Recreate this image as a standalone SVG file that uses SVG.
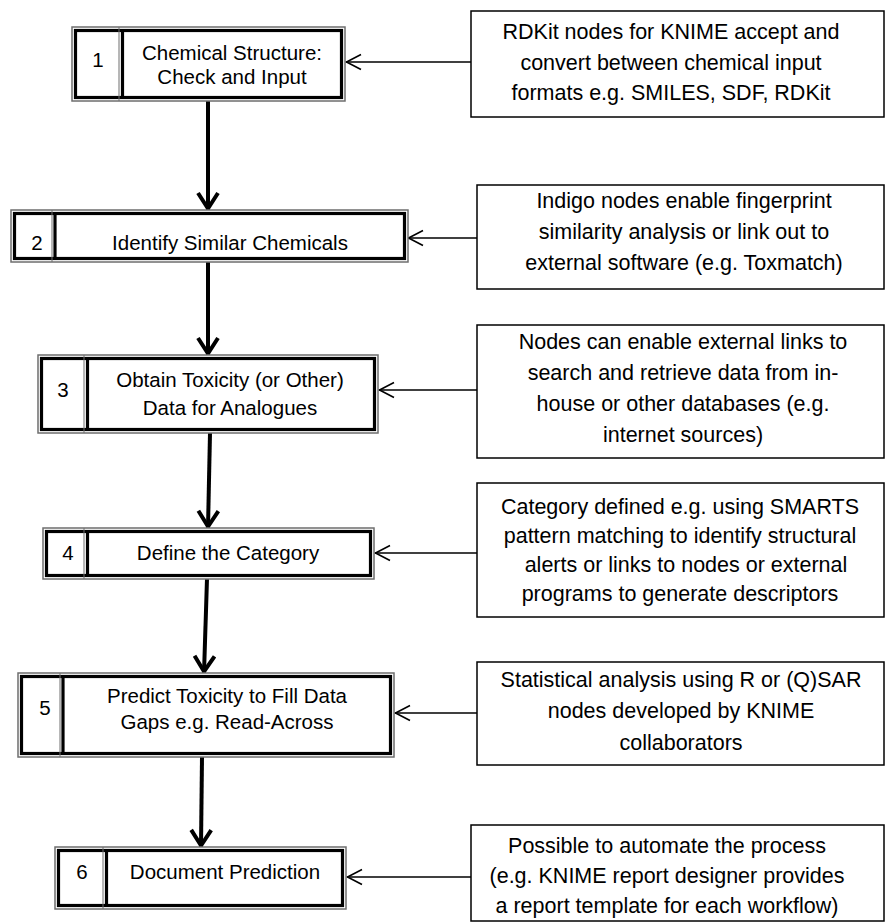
<svg xmlns="http://www.w3.org/2000/svg" width="886" height="923" viewBox="0 0 886 923">
<style>
text{font-family:"Liberation Sans",Arial,sans-serif;font-size:20.5px;fill:#000;text-anchor:middle}
.n text{font-size:21.5px}
.outer{fill:#fff;stroke:#6e6e6e;stroke-width:1.5}
.inner{fill:none;stroke:#000;stroke-width:3.2}
.thin{stroke:#6e6e6e;stroke-width:1}
.thick{stroke:#000;stroke-width:3.2}
.note{fill:#fff;stroke:#000;stroke-width:1.5}
.flow{stroke:#000;stroke-width:4;fill:none;marker-end:url(#bigArrow)}
.link{stroke:#000;stroke-width:1.6;fill:none;marker-end:url(#smallArrow)}
</style>
<defs>
<marker id="bigArrow" markerUnits="userSpaceOnUse" viewBox="-20 -12 22 24" refX="0" refY="0" markerWidth="22" markerHeight="24" orient="auto">
<path d="M-17,-10 L-1.5,0 L-17,10" fill="none" stroke="#000" stroke-width="4"/>
</marker>
<marker id="smallArrow" markerUnits="userSpaceOnUse" viewBox="-18 -10 20 20" refX="0" refY="0" markerWidth="20" markerHeight="20" orient="auto">
<path d="M-15,-7.5 L-0.5,0 L-15,7.5" fill="none" stroke="#000" stroke-width="1.6"/>
</marker>
</defs>

<g id="connectors">
<path class="flow" d="M208,101 L208,210"/>
<path class="flow" d="M208,262 L208,355"/>
<path class="flow" d="M210,433 L208,528"/>
<path class="flow" d="M207,579 L204,673"/>
<path class="flow" d="M202,757 L201,847"/>
<path class="link" d="M471,62 L346,62"/>
<path class="link" d="M477,238 L408,238"/>
<path class="link" d="M477,390 L379,390"/>
<path class="link" d="M477,553 L375,553"/>
<path class="link" d="M477,713 L395,713"/>
<path class="link" d="M471,877 L347,877"/>
</g>

<g id="step1">
<rect class="outer" x="72" y="27" width="273" height="74"/>
<rect class="inner" x="75.5" y="30.5" width="266" height="67"/>
<line class="thin" x1="119" y1="27" x2="119" y2="101"/>
<line class="thick" x1="122.5" y1="30" x2="122.5" y2="98"/>
<text x="98" y="67">1</text>
<text x="232" y="60">Chemical Structure:</text>
<text x="232" y="84">Check and Input</text>
</g>

<g id="step2">
<rect class="outer" x="11" y="210" width="397" height="52"/>
<rect class="inner" x="14.5" y="213.5" width="390" height="45"/>
<line class="thin" x1="52" y1="210" x2="52" y2="262"/>
<line class="thick" x1="55" y1="213" x2="55" y2="259"/>
<text x="37" y="250">2</text>
<text x="230" y="250">Identify Similar Chemicals</text>
</g>

<g id="step3">
<rect class="outer" x="38" y="355" width="340" height="78"/>
<rect class="inner" x="41.5" y="358.5" width="333" height="71"/>
<line class="thin" x1="84" y1="355" x2="84" y2="433"/>
<line class="thick" x1="87.5" y1="358" x2="87.5" y2="430"/>
<text x="63" y="397">3</text>
<text x="230" y="387">Obtain Toxicity (or Other)</text>
<text x="230" y="415">Data for Analogues</text>
</g>

<g id="step4">
<rect class="outer" x="43" y="528" width="331" height="51"/>
<rect class="inner" x="46.5" y="531.5" width="324" height="44"/>
<line class="thin" x1="84" y1="528" x2="84" y2="579"/>
<line class="thick" x1="87.5" y1="531" x2="87.5" y2="576"/>
<text x="68" y="560">4</text>
<text x="228" y="560">Define the Category</text>
</g>

<g id="step5">
<rect class="outer" x="18" y="673" width="376" height="84"/>
<rect class="inner" x="21.5" y="676.5" width="369" height="77"/>
<line class="thin" x1="60" y1="673" x2="60" y2="757"/>
<line class="thick" x1="63" y1="676" x2="63" y2="754"/>
<text x="45" y="715">5</text>
<text x="227" y="703">Predict Toxicity to Fill Data</text>
<text x="227" y="729">Gaps e.g. Read-Across</text>
</g>

<g id="step6">
<rect class="outer" x="55" y="847" width="291" height="62"/>
<rect class="inner" x="58.5" y="850.5" width="284" height="55"/>
<line class="thin" x1="103" y1="847" x2="103" y2="909"/>
<line class="thick" x1="106.5" y1="850" x2="106.5" y2="906"/>
<text x="82" y="879">6</text>
<text x="225" y="879">Document Prediction</text>
</g>

<g id="note1" class="n">
<rect class="note" x="471" y="11" width="413" height="106"/>
<text x="671" y="39">RDKit nodes for KNIME accept and</text>
<text x="671" y="70">convert between chemical input</text>
<text x="671" y="100">formats e.g. SMILES, SDF, RDKit</text>
</g>

<g id="note2" class="n">
<rect class="note" x="477" y="185" width="407" height="104"/>
<text x="684" y="208">Indigo nodes enable fingerprint</text>
<text x="684" y="239">similarity analysis or link out to</text>
<text x="684" y="270">external software (e.g. Toxmatch)</text>
</g>

<g id="note3" class="n">
<rect class="note" x="477" y="325" width="407" height="133"/>
<text x="683" y="349">Nodes can enable external links to</text>
<text x="683" y="380">search and retrieve data from in-</text>
<text x="683" y="411">house or other databases (e.g.</text>
<text x="683" y="442">internet sources)</text>
</g>

<g id="note4" class="n">
<rect class="note" x="477" y="483" width="407" height="134"/>
<text x="680" y="514">Category defined e.g. using SMARTS</text>
<text x="680" y="543">pattern matching to identify structural</text>
<text x="686" y="572">alerts or links to nodes or external</text>
<text x="680" y="601">programs to generate descriptors</text>
</g>

<g id="note5" class="n">
<rect class="note" x="477" y="662" width="407" height="103"/>
<text x="681" y="687">Statistical analysis using R or (Q)SAR</text>
<text x="681" y="718">nodes developed by KNIME</text>
<text x="681" y="750">collaborators</text>
</g>

<g id="note6" class="n">
<rect class="note" x="471" y="825" width="413" height="96"/>
<text x="667" y="853">Possible to automate the process</text>
<text x="667" y="883">(e.g. KNIME report designer provides</text>
<text x="667" y="913">a report template for each workflow)</text>
</g>
</svg>
